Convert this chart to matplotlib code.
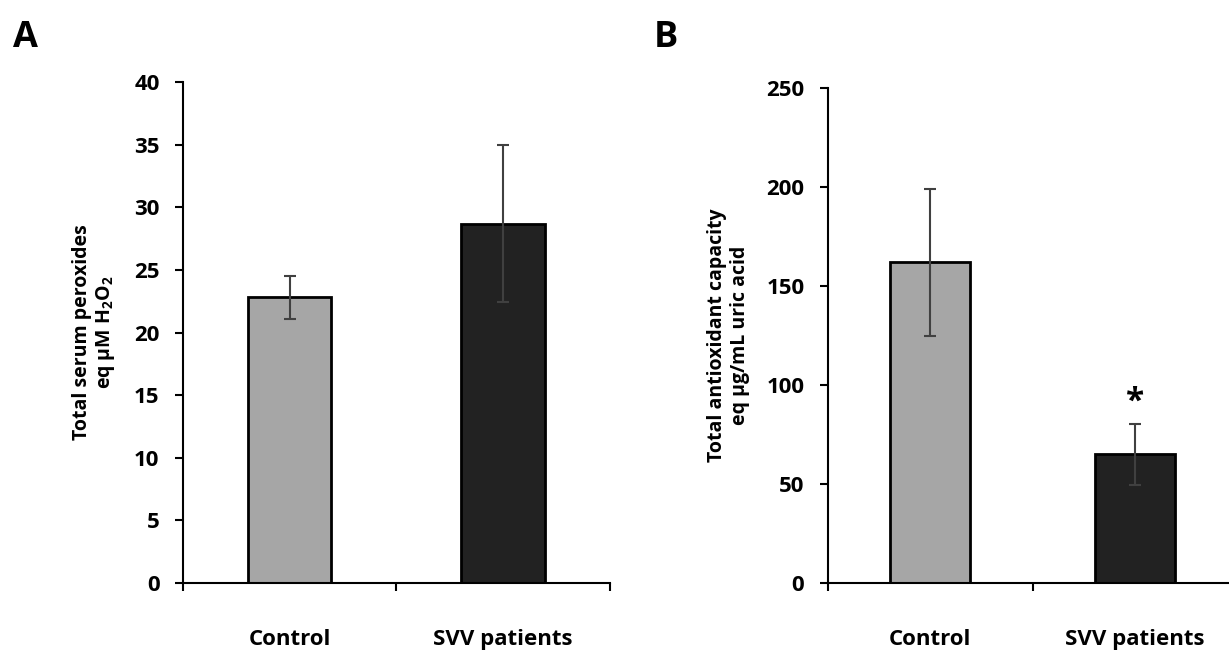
import matplotlib
matplotlib.use('Agg')
import matplotlib.pyplot as plt
import matplotlib.ticker as ticker

plt.rcParams['font.family'] = ['Open Sans', 'DejaVu Sans']
plt.rcParams['font.weight'] = 'bold'
plt.rcParams['axes.labelweight'] = 'bold'
plt.rcParams['mathtext.default'] = 'regular'

groups = ['Control', 'SVV patients']
bar_colors = ['#a6a6a6', '#222222']

# panel A: total serum peroxides
perox_mean = [22.8, 28.7]
perox_err = [1.75, 6.3]

# panel B: total antioxidant capacity
tac_mean = [162, 65]
tac_err = [37, 15.5]

fig = plt.figure(figsize=(12.29, 6.57), dpi=100)
axA = fig.add_axes([0.149, 0.1126, 0.347, 0.7626])
axB = fig.add_axes([0.6737, 0.1126, 0.3333, 0.7534])


def draw_panel(ax, means, errs, ymax, ystep, ylabel):
    xs = [0.5, 1.5]
    ax.bar(xs, means, width=0.39, color=bar_colors, edgecolor='black', linewidth=2, zorder=2)
    ax.errorbar(xs, means, yerr=errs, fmt='none', ecolor='#404040', elinewidth=1.5,
                capsize=4, capthick=1.5, zorder=3)
    ax.set_xlim(0, 2)
    ax.set_ylim(0, ymax)
    ax.yaxis.set_major_locator(ticker.MultipleLocator(ystep))
    ax.xaxis.set_major_locator(ticker.FixedLocator([0, 1, 2]))
    ax.xaxis.set_major_formatter(ticker.NullFormatter())
    ax.xaxis.set_minor_locator(ticker.FixedLocator(xs))
    ax.xaxis.set_minor_formatter(ticker.FixedFormatter(groups))
    ax.tick_params(axis='x', which='major', direction='out', length=6, width=1.5)
    ax.tick_params(axis='x', which='minor', length=0, pad=33, labelsize=16)
    ax.tick_params(axis='y', direction='out', length=6, width=1.5, labelsize=16, pad=11)
    for s in ['top', 'right']:
        ax.spines[s].set_visible(False)
    for s in ['left', 'bottom']:
        ax.spines[s].set_linewidth(1.5)
    ax.set_ylabel(ylabel, fontsize=14, labelpad=12, linespacing=1.15)
    ax.patch.set_alpha(0)


draw_panel(axA, perox_mean, perox_err, 40, 5,
           'Total serum peroxides\neq μM H$_2$O$_2$')
draw_panel(axB, tac_mean, tac_err, 250, 50,
           'Total antioxidant capacity\neq μg/mL uric acid')

axB.text(1.5, tac_mean[1] + tac_err[1] + 11, '*', ha='center', va='center',
         fontsize=24, fontweight='bold')

fig.text(0.0106, 0.942, 'A', fontsize=26, fontweight='bold', va='center')
fig.text(0.532, 0.942, 'B', fontsize=26, fontweight='bold', va='center')

fig.savefig('out.png', dpi=100)
